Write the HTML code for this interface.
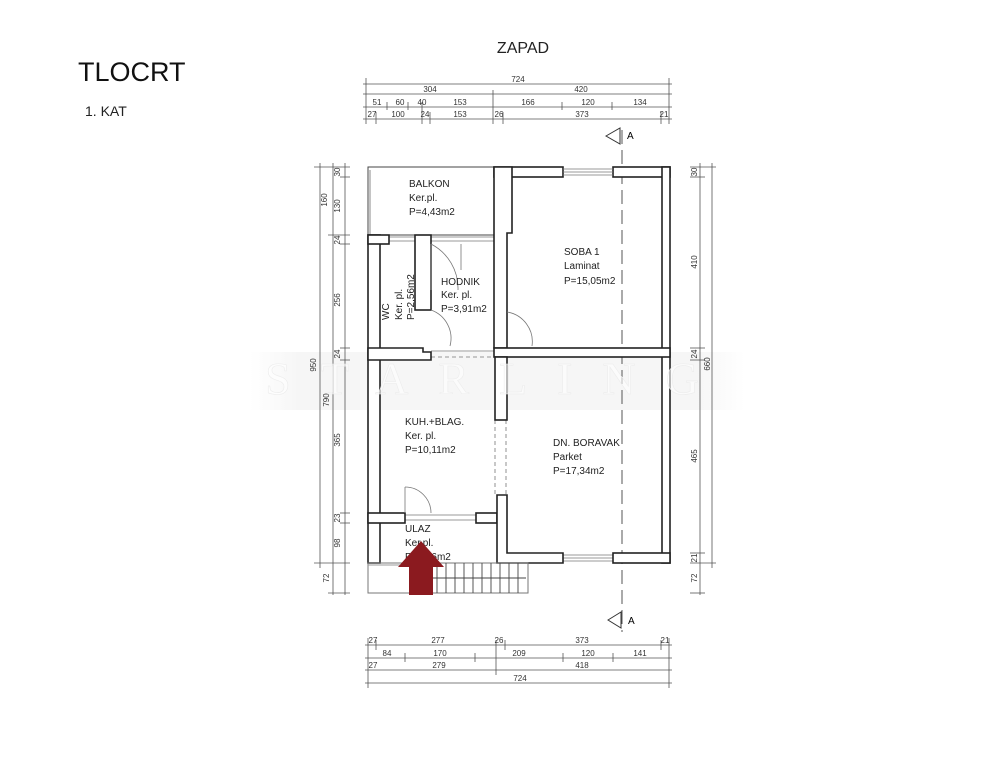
<!DOCTYPE html>
<html><head><meta charset="utf-8"><style>
html,body{margin:0;padding:0;background:#fff;}
svg{display:block;font-family:"Liberation Sans",sans-serif;}
.w{fill:#fff;stroke:#222;stroke-width:1.6}
.t{font-size:10px;fill:#222}
.d{font-size:8px;fill:#333}
.dl{stroke:#555;stroke-width:0.8;fill:none}
.thin{stroke:#777;stroke-width:0.8;fill:none}
</style></head><body>
<svg width="996" height="768" viewBox="0 0 996 768">
<rect width="996" height="768" fill="#fff"/>
<text x="78" y="81" font-size="27" fill="#111">TLOCRT</text>
<text x="85" y="116" font-size="14" fill="#222">1. KAT</text>
<text x="523" y="53" font-size="16" fill="#222" text-anchor="middle">ZAPAD</text>

<defs><linearGradient id="g" x1="0" x2="1"><stop offset="0" stop-color="#fff"/><stop offset="0.1" stop-color="#f6f6f6"/><stop offset="0.9" stop-color="#f6f6f6"/><stop offset="1" stop-color="#fff"/></linearGradient></defs>
<rect x="250" y="352" width="495" height="58" fill="url(#g)"/>

<g class="dl">
<line x1="363" y1="84" x2="672" y2="84"/><line x1="363" y1="94" x2="672" y2="94"/>
<line x1="363" y1="107" x2="672" y2="107"/><line x1="363" y1="119" x2="672" y2="119"/>
<line x1="366" y1="78" x2="366" y2="124"/><line x1="669" y1="78" x2="669" y2="124"/>
<line x1="493" y1="90" x2="493" y2="124"/>
<line x1="387" y1="102" x2="387" y2="110"/><line x1="408" y1="102" x2="408" y2="110"/><line x1="422" y1="102" x2="422" y2="124"/><line x1="430" y1="112" x2="430" y2="124"/>
<line x1="562" y1="102" x2="562" y2="110"/><line x1="612" y1="102" x2="612" y2="110"/>
<line x1="376" y1="112" x2="376" y2="124"/><line x1="503" y1="112" x2="503" y2="124"/><line x1="661" y1="112" x2="661" y2="124"/>
</g>
<g class="d" text-anchor="middle">
<text x="518" y="82">724</text>
<text x="430" y="92">304</text><text x="581" y="92">420</text>
<text x="377" y="105">51</text><text x="400" y="105">60</text><text x="422" y="105">40</text><text x="460" y="105">153</text><text x="528" y="105">166</text><text x="588" y="105">120</text><text x="640" y="105">134</text>
<text x="372" y="117">27</text><text x="398" y="117">100</text><text x="425" y="117">24</text><text x="460" y="117">153</text><text x="499" y="117">26</text><text x="582" y="117">373</text><text x="664" y="117">21</text>
</g>

<line x1="622" y1="130" x2="622" y2="632" stroke="#555" stroke-width="1" stroke-dasharray="14,6"/>
<polygon points="606,136 620,128 620,144" fill="#fff" stroke="#333"/><text x="627" y="139" font-size="10">A</text>
<polygon points="608,620 621,612 621,628" fill="#fff" stroke="#333"/><text x="628" y="624" font-size="10">A</text>

<g class="dl">
<line x1="320" y1="163" x2="320" y2="568"/><line x1="333" y1="163" x2="333" y2="595"/><line x1="345" y1="163" x2="345" y2="595"/>
<line x1="314" y1="167" x2="350" y2="167"/><line x1="328" y1="235" x2="350" y2="235"/><line x1="340" y1="244" x2="350" y2="244"/><line x1="340" y1="348" x2="350" y2="348"/><line x1="340" y1="360" x2="350" y2="360"/><line x1="340" y1="513" x2="350" y2="513"/><line x1="340" y1="523" x2="350" y2="523"/><line x1="314" y1="563" x2="350" y2="563"/><line x1="328" y1="593" x2="350" y2="593"/>
<line x1="340" y1="177" x2="350" y2="177"/>
</g>
<g class="d" text-anchor="middle">
<text transform="translate(327,200) rotate(-90)">160</text><text transform="translate(340,206) rotate(-90)">130</text><text transform="translate(340,172) rotate(-90)">30</text>
<text transform="translate(340,240) rotate(-90)">24</text><text transform="translate(340,300) rotate(-90)">256</text><text transform="translate(340,354) rotate(-90)">24</text>
<text transform="translate(316,365) rotate(-90)">950</text><text transform="translate(329,400) rotate(-90)">790</text><text transform="translate(340,440) rotate(-90)">365</text>
<text transform="translate(340,518) rotate(-90)">23</text><text transform="translate(340,543) rotate(-90)">98</text><text transform="translate(329,578) rotate(-90)">72</text>
</g>
<g class="dl">
<line x1="700" y1="163" x2="700" y2="595"/><line x1="712" y1="163" x2="712" y2="568"/>
<line x1="690" y1="167" x2="716" y2="167"/><line x1="690" y1="177" x2="705" y2="177"/><line x1="690" y1="348" x2="705" y2="348"/><line x1="690" y1="360" x2="705" y2="360"/><line x1="690" y1="553" x2="705" y2="553"/><line x1="690" y1="563" x2="716" y2="563"/><line x1="690" y1="593" x2="705" y2="593"/>
</g>
<g class="d" text-anchor="middle">
<text transform="translate(697,172) rotate(-90)">30</text><text transform="translate(697,262) rotate(-90)">410</text><text transform="translate(697,354) rotate(-90)">24</text><text transform="translate(710,364) rotate(-90)">660</text>
<text transform="translate(697,456) rotate(-90)">465</text><text transform="translate(697,558) rotate(-90)">21</text><text transform="translate(697,578) rotate(-90)">72</text>
</g>

<rect x="368" y="167" width="126" height="68" fill="none" stroke="#444" stroke-width="1"/>
<line x1="370" y1="170" x2="370" y2="235" stroke="#888"/>
<rect class="w" x="494" y="167" width="69" height="10"/>
<rect class="w" x="613" y="167" width="57" height="10"/>
<g class="thin"><line x1="563" y1="169" x2="613" y2="169"/><line x1="563" y1="172" x2="613" y2="172"/><line x1="563" y1="175" x2="613" y2="175"/>
<line x1="563" y1="555" x2="613" y2="555"/><line x1="563" y1="558" x2="613" y2="558"/><line x1="563" y1="561" x2="613" y2="561"/>
<line x1="389" y1="237" x2="415" y2="237"/><line x1="389" y1="241" x2="415" y2="241"/>
<line x1="431" y1="237" x2="494" y2="237"/><line x1="431" y1="241" x2="494" y2="241"/>
<line x1="405" y1="515" x2="476" y2="515"/><line x1="405" y1="520" x2="476" y2="520"/>
<line x1="431" y1="351" x2="494" y2="351"/><line x1="431" y1="357" x2="494" y2="357" stroke-dasharray="4,3"/>
<line x1="495" y1="420" x2="495" y2="495" stroke-dasharray="4,3"/><line x1="506" y1="420" x2="506" y2="495" stroke-dasharray="4,3"/>
</g>
<polygon class="w" points="494,167 512,167 512,233 507,233 507,348 494,348"/>
<rect class="w" x="662" y="167" width="8" height="396"/>
<rect class="w" x="494" y="348" width="176" height="9"/>
<rect class="w" x="368" y="235" width="12" height="328"/>
<rect class="w" x="368" y="235" width="21" height="9"/>
<rect class="w" x="415" y="235" width="16" height="75"/>
<polygon class="w" points="368,348 423,348 423,352 431,352 431,360 368,360"/>
<rect class="w" x="495" y="357" width="12" height="63"/>
<rect class="w" x="368" y="513" width="37" height="10"/>
<rect class="w" x="476" y="513" width="21" height="10"/>
<polygon class="w" points="497,495 507,495 507,553 563,553 563,563 497,563"/>
<rect class="w" x="613" y="553" width="57" height="10"/>
<g class="thin">
<path d="M431 244 A 50 50 0 0 1 458 290"/><line x1="431" y1="244" x2="431" y2="290"/>
<path d="M431 310 A 30 30 0 0 1 450 346"/>
<path d="M507 312 A 30 30 0 0 1 532 346"/>
<path d="M405 487 A 26 26 0 0 1 431 513"/><line x1="405" y1="487" x2="405" y2="513"/>
<line x1="461" y1="244" x2="461" y2="270"/>
</g>
<rect x="368" y="563" width="160" height="30" fill="none" stroke="#777"/>
<line x1="368" y1="565" x2="410" y2="565" stroke="#999"/>
<g stroke="#444" stroke-width="0.9">
<line x1="410" y1="563" x2="410" y2="593"/><line x1="419" y1="563" x2="419" y2="593"/><line x1="428" y1="563" x2="428" y2="593"/><line x1="437" y1="563" x2="437" y2="593"/><line x1="446" y1="563" x2="446" y2="593"/><line x1="455" y1="563" x2="455" y2="593"/><line x1="464" y1="563" x2="464" y2="593"/><line x1="473" y1="563" x2="473" y2="593"/><line x1="482" y1="563" x2="482" y2="593"/><line x1="491" y1="563" x2="491" y2="593"/><line x1="500" y1="563" x2="500" y2="593"/><line x1="509" y1="563" x2="509" y2="593"/><line x1="518" y1="563" x2="518" y2="593"/>
<line x1="410" y1="578" x2="526" y2="578"/>
</g>

<text x="497" y="394" font-family="Liberation Serif,serif" font-size="46" fill="#fff" fill-opacity="0.6" stroke="#ececec" stroke-width="0.6" text-anchor="middle" letter-spacing="30">STARLING</text>

<g class="t">
<text x="409" y="187">BALKON</text><text x="409" y="201">Ker.pl.</text><text x="409" y="215">P=4,43m2</text>
<text x="564" y="255">SOBA 1</text><text x="564" y="269">Laminat</text><text x="564" y="284">P=15,05m2</text>
<text x="441" y="285">HODNIK</text><text x="441" y="298">Ker. pl.</text><text x="441" y="312">P=3,91m2</text>
<text transform="translate(389,320) rotate(-90)">WC</text><text transform="translate(402,320) rotate(-90)">Ker. pl.</text><text transform="translate(414,320) rotate(-90)">P=2,56m2</text>
<text x="405" y="425">KUH.+BLAG.</text><text x="405" y="439">Ker. pl.</text><text x="405" y="453">P=10,11m2</text>
<text x="553" y="446">DN. BORAVAK</text><text x="553" y="460">Parket</text><text x="553" y="474">P=17,34m2</text>
<text x="405" y="532">ULAZ</text><text x="405" y="546">Ker.pl.</text><text x="405" y="560">P=4,56m2</text>
</g>
<polygon points="421,541 444,567 433,567 433,595 409,595 409,567 398,567" fill="#8b1a1f"/>

<g class="dl">
<line x1="365" y1="645" x2="672" y2="645"/><line x1="365" y1="658" x2="672" y2="658"/><line x1="365" y1="670" x2="672" y2="670"/><line x1="365" y1="683" x2="672" y2="683"/>
<line x1="368" y1="638" x2="368" y2="688"/><line x1="669" y1="638" x2="669" y2="688"/>
<line x1="376" y1="640" x2="376" y2="650"/><line x1="496" y1="640" x2="496" y2="675"/><line x1="505" y1="640" x2="505" y2="650"/><line x1="661" y1="640" x2="661" y2="650"/>
<line x1="405" y1="653" x2="405" y2="662"/><line x1="475" y1="653" x2="475" y2="662"/><line x1="563" y1="653" x2="563" y2="662"/><line x1="613" y1="653" x2="613" y2="662"/>
</g>
<g class="d" text-anchor="middle">
<text x="373" y="643">27</text><text x="438" y="643">277</text><text x="499" y="643">26</text><text x="582" y="643">373</text><text x="665" y="643">21</text>
<text x="387" y="656">84</text><text x="440" y="656">170</text><text x="519" y="656">209</text><text x="588" y="656">120</text><text x="640" y="656">141</text>
<text x="373" y="668">27</text><text x="439" y="668">279</text><text x="582" y="668">418</text>
<text x="520" y="681">724</text>
</g>
</svg>
</body></html>
